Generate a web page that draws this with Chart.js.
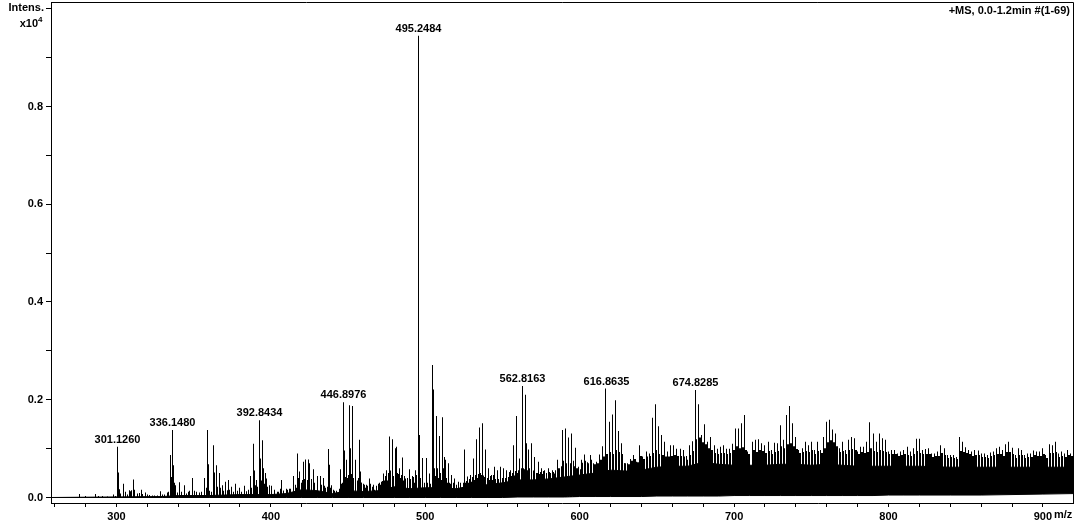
<!DOCTYPE html>
<html><head><meta charset="utf-8">
<style>html,body{margin:0;padding:0;background:#fff}#w{width:1077px;height:526px}</style>
<script src="https://cdn.jsdelivr.net/npm/chart.js@4"></script>
</head><body><div id="w"><canvas id="c"></canvas></div>
<script>
// Intensities are in thousandths of the axis unit (x10^4).
const peakMz=[275.9,280,286.5,288.5,291,294,298.1,299.5,
300.5,301.2,301.8,302.7,304.4,305.7,307,308.3,309.2,310,310.9,311.8,313.5,314.8,316.1,317,318.7,320,321.7,323.4,324.9,326.4,328.4,329.9,331.4,332.9,334,
334.9,335.5,336.1,337.2,337.9,338.5,339.6,341.1,342.2,343.9,345.4,346.5,347.6,349.1,350.4,351.9,353.6,355.1,356.9,358,358.8,359.5,360.5,361.6,362.7,363.4,364.7,365.5,366.6,367.5,368.5,369.6,370.5,371.6,372.4,373.5,374.4,375.7,377.4,378.5,379.5,381,382.8,383.9,385.4,386.7,387.5,388.6,389.3,390.1,390.8,391.6,392.5,393.1,393.8,394.7,395.3,396,396.6,397.1,397.9,399,
400.5,402.6,404.8,406.7,408,410.2,412.3,414.5,415.8,417.1,417.8,418.8,419.9,421,421.9,422.7,423.6,424.4,425.3,426.4,427.5,428.5,430.5,432.2,433.9,435.7,437.2,438,439.3,440.9,442.6,443.7,444.9,446,446.9,447.5,448.8,449.9,450.8,451.4,452.7,453.6,454.7,456,457.3,457.9,459,459.9,461,461.8,462.9,463.7,464.6,465.7,467,468.3,469.6,470.9,471.9,472.8,473.9,474.7,475.8,476.7,477.6,478.6,479.7,480.6,481.4,482.3,483,484,485.1,486.2,487,488.4,489.6,490.7,491.6,492.7,493.5,494.4,
495.3,495.8,496.3,497.2,498.5,499.5,500.5,501.5,502.6,503.5,504.6,505.2,505.8,506.5,507.4,508.2,509.1,509.8,511,511.6,512.3,513,514,514.9,516,517,518,519,520,521.2,523,525.3,526,527.2,528,529.2,530,531.1,532,533,534,535,536,537,538,538.9,540,540.8,541.8,542.8,543.8,544.7,545.7,546.7,547.7,548.6,549.7,550.8,551.8,552.7,553.8,554.9,556,557,558,559,560,560.9,562,562.9,563.8,564.8,565.4,566.7,567.8,568.9,569.8,570.6,571.8,573.2,574.2,575.2,576.2,577.1,578.5,580.1,581.2,582.3,583.2,584,585.7,587,588.8,589.8,590.7,591.6,592.6,593.8,595,596,597,598,599.1];
const peakTop=[7,3,7,3,3,2,6,3,
104,51,17,8,28,12,6,15,13,15,37,16,8,9,16,7,10,6,5,4,4,4,13,6,6,10,12,
87,42,138,66,30,25,10,31,12,25,8,12,14,40,14,12,10,12,40,20,138,68,14,12,107,51,66,22,50,20,25,14,32,15,36,16,22,12,28,14,20,12,24,13,16,44,20,110,55,25,36,22,158,80,35,117,60,28,50,39,22,25,
24,15,12,36,14,18,18,44,26,90,40,53,30,73,38,78,36,78,70,30,58,22,44,44,40,20,99,67,25,14,10,8,58,28,195,96,77,40,189,101,187,40,77,35,118,53,30,28,20,26,18,39,20,22,16,18,28,26,32,49,35,56,35,125,55,119,44,101,104,50,60,40,82,35,39,28,58,30,44,30,56,30,
945,473,128,40,81,30,81,30,49,28,271,221,60,40,167,60,126,50,164,60,83,77,40,70,30,46,28,39,25,32,30,98,30,43,30,46,32,80,36,119,40,143,50,152,45,98,40,60,36,46,36,63,38,56,38,63,40,60,40,56,42,56,44,107,45,167,50,80,55,228,60,210,111,98,60,111,55,83,50,73,48,60,48,56,50,60,50,56,52,49,77,60,138,75,141,70,123,70,131,75,102,60,63];

const fineMz=[400.5,402.5,404.5,406.5,408.5,410.5,412.5,414.5,416.5,418.5,
420.5,422.5,424.5,426.5,428.5,430.5,432.5,434.5,436.5,438.5,
440.5,442.5,444.5,446.5,448.5,450.5,452.5,454.5,456.5,458.5,
460.5,462.5,464.5,466.5,468.5,470.5,472.5,474.5,476.5,478.5,
480.5,482.5,484.5,486.5,488.5,490.5,492.5,494.5,496.5,498.5,
500.5,502.5,504.5,506.5,508.5,510.5,512.5,514.5,516.5,518.5,
520.5,522.5,524.5,526.5,528.5,530.5,532.5,534.5,536.5,538.5,
540.5,542.5,544.5,546.5,548.5,550.5,552.5,554.5,556.5,558.5,
560.5,562.5,564.5,566.5,568.5,570.5,572.5,574.5,576.5,578.5,
580.5,582.5,584.5,586.5,588.5,590.5,592.5,594.5,596.5,598.5,600.5];
const fineTop=[14,16,12,18,14,16,18,22,20,32,
36,40,34,38,30,28,26,24,22,20,
16,14,18,30,42,46,48,44,40,30,
26,24,28,26,24,30,34,44,50,54,
52,48,46,44,40,38,42,46,48,44,
42,46,48,44,40,36,32,30,28,30,
26,28,30,34,38,42,46,48,46,42,
40,44,46,48,46,50,48,52,50,54,
56,60,58,56,54,52,50,52,54,50,
52,54,56,60,64,70,68,66,64,60,58];

const combMz=[601,603,605,607,609,611,613,615,617,619,
621,623,625,627,629,631,633,635,637,639,
641,643,645,647,649,651,653,655,657,659,
661,663,665,667,669,671,673,675,677,679,
681,683,685,687,689,691,693,695,697,699,
701,703,705,707,709,
712,714,716,718,720,722,724,726,728,730,
732,734,736,738,740,742,744,746,748,750,
752,754,756,758,760,762,764,766,768,770,
772,774,776,778,780,782,784,786,788,790,
792,794,796,798,800,802,804,806,808,810,
812,814,816,818,820,822,824,826,828,830,
832,834,836,838,840,842,844,846,848,850,
852,854,856,858,860,862,864,866,868,870,
872,874,876,878,880,882,884,886,888,890,
892,894,896,898,900,902,904,906,908,910,
912,914,916,918];
const combTop=[77,88,72,87,70,73,88,105,223,155,
170,199,136,111,70,70,79,87,73,107,
84,94,90,163,191,146,128,114,94,107,
107,100,100,97,85,107,115,220,191,128,
150,114,124,107,100,104,107,100,100,110,
141,141,152,169,94,
114,118,119,111,107,114,97,112,111,148,
118,169,187,152,124,97,101,114,107,114,
97,114,97,124,155,159,139,131,101,114,
97,118,124,121,94,104,104,114,154,131,
114,131,121,118,94,97,97,90,94,97,
104,94,101,120,120,97,99,101,90,90,
94,107,101,87,87,87,83,124,114,103,
97,94,97,96,90,90,87,92,94,101,
104,97,109,114,102,87,101,97,87,90,
90,96,94,94,101,87,109,107,114,90,
94,90,97,90];
const shoulderTop=[71,75,70,77,68,70,77,84,89,93,
89,97,93,89,70,68,75,79,72,85,
79,84,85,91,97,89,87,84,84,85,
87,85,85,84,77,87,95,119,123,113,
109,101,97,91,89,91,91,89,91,97,
105,101,103,97,89,
97,93,97,95,91,95,89,93,95,105,
101,109,111,105,99,91,93,95,93,97,
89,95,91,101,113,117,113,105,93,95,
89,97,99,97,89,93,91,93,101,95,
93,97,95,93,89,89,89,85,87,89,
87,85,89,95,91,89,89,89,83,85,
85,91,87,81,83,81,79,95,93,91,
89,85,87,87,83,83,81,85,87,89,
89,85,93,93,89,81,87,87,81,83,
83,87,85,85,89,81,91,91,93,83,
85,83,87,85];

const bodyMz=[257.6,330,340,360,380,400,410,420,430,440,450,460,470,480,490,500,510,520,530,540,550,560,570,580,590,600,610,620,630,640,650,660,670,680,690,700,710,720,730,740,750,760,770,780,790,800,810,820,840,860,880,900,919.5];
const bodyTop=[0,2,4,4,6,6,8,16,14,8,14,12,14,22,18,20,20,18,24,26,30,36,36,38,42,46,50,56,54,56,62,64,64,72,68,66,66,66,68,68,66,68,66,64,64,64,64,64,62,62,62,62,62];
const floorLow=[0,0,0,0,0,0,0,0,0,0,0,0,0,0,0,0,0,0,0,0,0,1,1,1,1,2,2,2,2,2,3,3,3,3,3,4,4,4,4,4,4,4,4,4,4,5,5,5,5,5,6,7,8];

const labelMz=[300.5,336.1,392.5,446.9,495.3,562.9,617,675];
const labelTop=[104,138,158,195,945,228,223,220];
const labelText=['301.1260','336.1480','392.8434','446.8976','495.2484','562.8163','616.8635','674.8285'];

const bars=(xs,lo,hi)=>xs.map((x,i)=>({x,y:[lo/1000,hi[i]/1000]}));
const shoulderBars=combMz.map((m,i)=>({x:m+0.65,y:[0.02,shoulderTop[i]/1000]}));

const FONT='"Liberation Sans",Arial,sans-serif';
const snap={id:'snap',afterDatasetsUpdate(ch){
  ch.data.datasets.forEach((d,i)=>{ if(d.type!=='bar')return;
    ch.getDatasetMeta(i).data.forEach(el=>{const w=el.width||1;el.x=Math.round(el.x-w/2)+w/2;});
  });
}};
const decor={id:'decor',afterDraw(ch){
  const c=ch.ctx,a=ch.chartArea,X=ch.scales.x,Y=ch.scales.y;
  c.save();c.strokeStyle='#000';c.lineWidth=1;
  c.beginPath();c.moveTo(a.left,a.top+.5);c.lineTo(a.right+.5,a.top+.5);c.lineTo(a.right+.5,a.bottom);c.stroke();
  c.fillStyle='#000';c.font='bold 11px '+FONT;c.textBaseline='alphabetic';
  c.textAlign='center';
  labelMz.forEach((m,i)=>c.fillText(labelText[i],Math.round(X.getPixelForValue(m))+.5,Y.getPixelForValue(labelTop[i]/1000)-4));
  c.textAlign='right';
  c.fillText('+MS, 0.0-1.2min #(1-69)',1070,14);
  c.fillText('Intens.',44,11);
  c.fillText('x10',38,27);
  c.textAlign='left';c.font='bold 8px '+FONT;c.fillText('4',38,22);
  c.font='bold 11px '+FONT;c.fillText('m/z',1054,518);
  c.restore();
}};
new Chart(document.getElementById('c'),{
  type:'bar',
  data:{datasets:[
    {type:'line',label:'body',data:bodyMz.map((x,i)=>({x,y:bodyTop[i]/1000})),borderColor:'#000',borderWidth:1,backgroundColor:'#000',fill:'+1',pointRadius:0,tension:0},
    {type:'line',label:'floor',data:bodyMz.map((x,i)=>({x,y:floorLow[i]/1000})),borderColor:'#000',borderWidth:1,pointRadius:0,tension:0},
    {type:'bar',label:'peaks',data:bars(peakMz,0,peakTop),backgroundColor:'#000',barThickness:1,borderWidth:0,inflateAmount:0},
    {type:'bar',label:'fine',data:bars(fineMz,0,fineTop),backgroundColor:'#000',barThickness:1,borderWidth:0,inflateAmount:0},
    {type:'bar',label:'comb',data:bars(combMz,20,combTop),backgroundColor:'#000',barThickness:1,borderWidth:0,inflateAmount:0},
    {type:'bar',label:'shoulder',data:shoulderBars,backgroundColor:'#000',barThickness:2,borderWidth:0,inflateAmount:0}
  ]},
  options:{
    responsive:true,maintainAspectRatio:false,animation:false,
    layout:{autoPadding:false,padding:{left:0,right:4,top:2,bottom:0}},
    plugins:{legend:{display:false},tooltip:{enabled:false}},
    datasets:{bar:{grouped:false}},
    scales:{
      x:{type:'linear',offset:false,min:257.6,max:919.5,
        afterFit(s){s.height=23;s.paddingLeft=0;s.paddingRight=0;s.paddingTop=0;s.paddingBottom=0},
        grid:{drawOnChartArea:false,drawTicks:true,tickLength:4,color:'#000',offset:false},
        border:{color:'#000',display:true},
        ticks:{stepSize:20,includeBounds:false,autoSkip:false,maxRotation:0,color:'#000',padding:3,font:{family:FONT,size:11,weight:'bold'},
          callback:v=>v%100===0?String(v):''}},
      y:{type:'linear',min:-0.01125,max:1.0138,
        afterFit(s){s.width=51;s.paddingTop=0;s.paddingBottom=0;s.paddingLeft=0;s.paddingRight=0},
        grid:{drawOnChartArea:false,drawTicks:true,tickLength:5,color:'#000'},
        border:{color:'#000',display:true},
        ticks:{stepSize:0.1,includeBounds:false,autoSkip:false,color:'#000',padding:3,font:{family:FONT,size:11,weight:'bold'},
          callback:v=>{const n=Math.round(v*10);return n%2===0&&n<9?v.toFixed(1):''}}}
    }
  },
  plugins:[snap,decor]
});
</script></body></html>
